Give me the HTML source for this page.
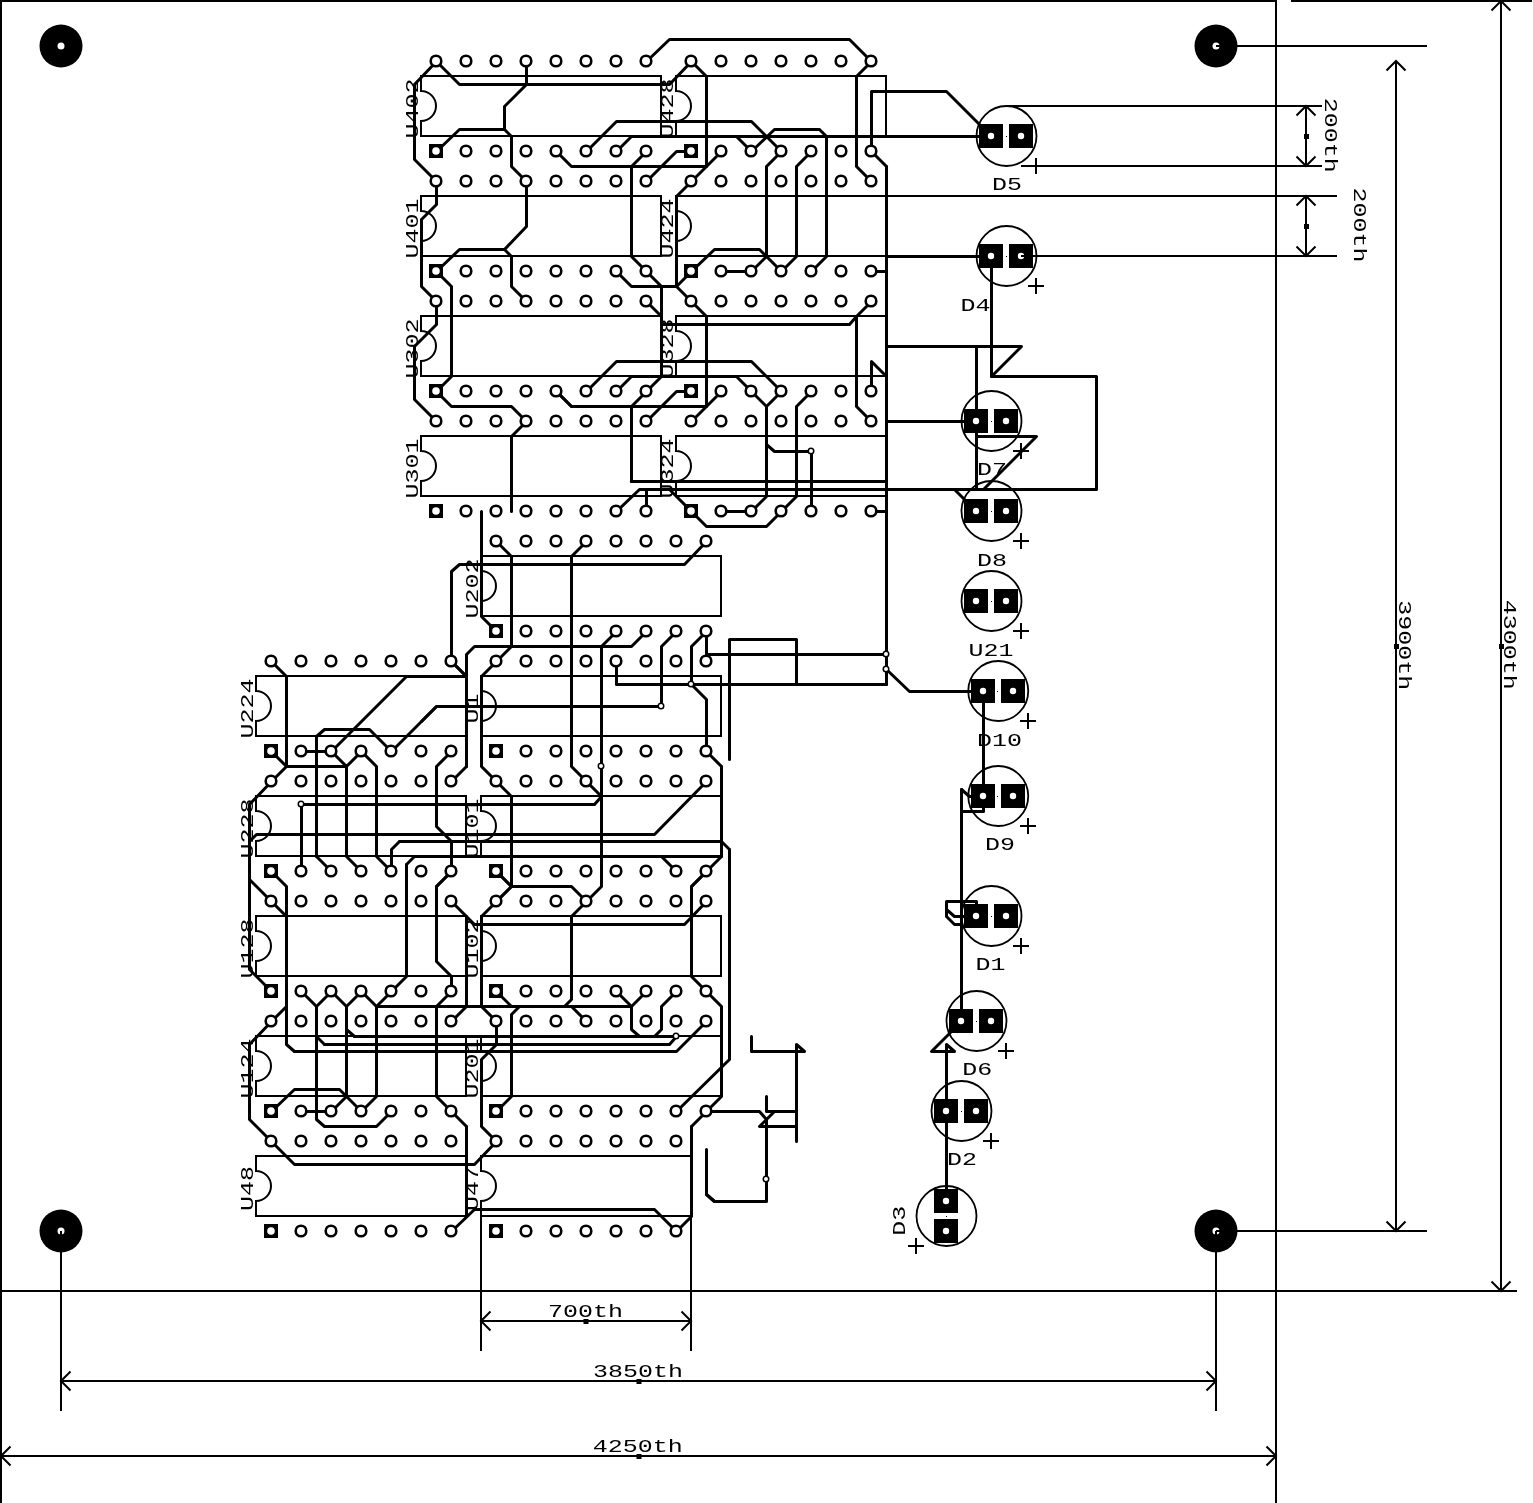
<!DOCTYPE html>
<html lang="en">
<head>
<meta charset="utf-8">
<title>PCB layout</title>
<style>
html,body{margin:0;padding:0;background:#fff;}
body{width:1533px;height:1503px;overflow:hidden;}
svg{display:block;filter:grayscale(1);}
</style>
</head>
<body>
<svg width="1533" height="1503" viewBox="0 0 1533 1503">
<rect width="1533" height="1503" fill="#fff"/>
<g fill="none" stroke="#000" stroke-width="2" stroke-linejoin="miter" stroke-linecap="square">
<path d="M421 76H661V136H421V121A15 15 0 0 0 421 91Z"/>
<path d="M421 196H661V256H421V241A15 15 0 0 0 421 211Z"/>
<path d="M421 316H661V376H421V361A15 15 0 0 0 421 331Z"/>
<path d="M421 436H661V496H421V481A15 15 0 0 0 421 451Z"/>
<path d="M676 76H886V136H676V121A15 15 0 0 0 676 91Z"/>
<path d="M676 196H886V256H676V241A15 15 0 0 0 676 211Z"/>
<path d="M676 316H886V376H676V361A15 15 0 0 0 676 331Z"/>
<path d="M676 436H886V496H676V481A15 15 0 0 0 676 451Z"/>
<path d="M481 556H721V616H481V601A15 15 0 0 0 481 571Z"/>
<path d="M481 676H721V736H481V721A15 15 0 0 0 481 691Z"/>
<path d="M481 796H721V856H481V841A15 15 0 0 0 481 811Z"/>
<path d="M481 916H721V976H481V961A15 15 0 0 0 481 931Z"/>
<path d="M481 1036H721V1096H481V1081A15 15 0 0 0 481 1051Z"/>
<path d="M481 1156H691V1216H481V1201A15 15 0 0 0 481 1171Z"/>
<path d="M256 676H466V736H256V721A15 15 0 0 0 256 691Z"/>
<path d="M256 796H466V856H256V841A15 15 0 0 0 256 811Z"/>
<path d="M256 916H466V976H256V961A15 15 0 0 0 256 931Z"/>
<path d="M256 1036H466V1096H256V1081A15 15 0 0 0 256 1051Z"/>
<path d="M256 1156H466V1216H256V1201A15 15 0 0 0 256 1171Z"/>
</g>
<g fill="none" stroke="#000" stroke-width="1.8">
<circle cx="1006.5" cy="136" r="30"/>
<circle cx="1006.5" cy="256" r="30"/>
<circle cx="991.5" cy="421" r="30"/>
<circle cx="991.5" cy="511" r="30"/>
<circle cx="991.5" cy="601" r="30"/>
<circle cx="998.25" cy="691" r="30"/>
<circle cx="998.25" cy="796" r="30"/>
<circle cx="991.5" cy="916" r="30"/>
<circle cx="976.5" cy="1021" r="30"/>
<circle cx="961.5" cy="1111" r="30"/>
<circle cx="946.5" cy="1216" r="30"/>
</g>
<g fill="none" stroke="#000" stroke-width="3" stroke-linejoin="round" stroke-linecap="round">
<polyline points="436.5,61.5 414.5,84.5 414.5,159.5 436.5,181.5"/>
<polyline points="436.5,151.5 459.5,129.5 504.5,129.5 511.5,136.5 511.5,166.5 526.5,181.5"/>
<polyline points="526.5,61.5 526.5,84.5 504.5,106.5 504.5,129.5"/>
<polyline points="436.5,61.5 459.5,84.5 669.5,84.5 691.5,61.5"/>
<polyline points="526.5,181.5 526.5,226.5 504.5,249.5 459.5,249.5 436.5,271.5"/>
<polyline points="504.5,249.5 511.5,256.5 511.5,286.5 526.5,301.5"/>
<polyline points="436.5,181.5 436.5,204.5 421.5,219.5 421.5,286.5 436.5,301.5"/>
<polyline points="556.5,151.5 571.5,166.5 706.5,166.5 706.5,76.5 691.5,61.5"/>
<polyline points="631.5,166.5 631.5,256.5 646.5,271.5"/>
<polyline points="631.5,166.5 646.5,151.5"/>
<polyline points="586.5,151.5 616.5,121.5 751.5,121.5 781.5,151.5"/>
<polyline points="646.5,61.5 669.5,39.5 849.5,39.5 871.5,61.5"/>
<polyline points="646.5,181.5 676.5,151.5 691.5,151.5"/>
<polyline points="616.5,271.5 631.5,286.5 676.5,286.5"/>
<polyline points="871.5,61.5 856.5,76.5 856.5,166.5 871.5,181.5"/>
<polyline points="721.5,151.5 691.5,181.5 676.5,196.5 676.5,286.5 691.5,271.5"/>
<polyline points="676.5,286.5 691.5,301.5"/>
<polyline points="751.5,151.5 774.5,129.5 819.5,129.5 826.5,136.5 826.5,256.5 811.5,271.5"/>
<polyline points="781.5,151.5 766.5,166.5 766.5,256.5 751.5,271.5"/>
<polyline points="691.5,271.5 714.5,249.5 759.5,249.5 781.5,271.5"/>
<polyline points="721.5,271.5 751.5,271.5"/>
<polyline points="811.5,151.5 796.5,166.5 796.5,256.5 781.5,271.5"/>
<polyline points="871.5,271.5 886.5,271.5"/>
<polyline points="436.5,301.5 436.5,324.5 414.5,346.5 414.5,399.5 436.5,421.5"/>
<polyline points="436.5,271.5 451.5,286.5 451.5,376.5 436.5,391.5 451.5,406.5 511.5,406.5 526.5,421.5 511.5,436.5 511.5,511.5"/>
<polyline points="556.5,391.5 571.5,406.5"/>
<polyline points="631.5,406.5 631.5,481.5"/>
<polyline points="646.5,271.5 661.5,286.5 661.5,376.5 646.5,391.5 631.5,406.5"/>
<polyline points="646.5,301.5 661.5,316.5"/>
<polyline points="646.5,421.5 676.5,391.5 691.5,391.5"/>
<polyline points="646.5,511.5 646.5,489.5"/>
<polyline points="871.5,511.5 886.5,511.5"/>
<polyline points="871.5,391.5 871.5,361.5 886.5,376.5"/>
<polyline points="871.5,301.5 856.5,316.5 856.5,406.5 871.5,421.5"/>
<polyline points="856.5,316.5 849.5,324.5 661.5,324.5"/>
<polyline points="556.5,391.5 571.5,406.5 706.5,406.5 706.5,316.5 691.5,301.5"/>
<polyline points="721.5,391.5 691.5,421.5"/>
<polyline points="586.5,391.5 616.5,361.5 751.5,361.5 781.5,391.5"/>
<polyline points="616.5,391.5 631.5,376.5 736.5,376.5 751.5,391.5"/>
<polyline points="751.5,391.5 766.5,406.5 781.5,391.5"/>
<polyline points="766.5,406.5 766.5,496.5 751.5,511.5"/>
<polyline points="766.5,444.5 774.5,451.5 811.5,451.5 811.5,511.5"/>
<polyline points="811.5,391.5 796.5,406.5 796.5,496.5 781.5,511.5"/>
<polyline points="721.5,511.5 751.5,511.5"/>
<polyline points="691.5,511.5 706.5,526.5 766.5,526.5 781.5,511.5"/>
<polyline points="669.5,489.5 691.5,511.5"/>
<polyline points="631.5,481.5 886.5,481.5"/>
<polyline points="886.5,166.5 871.5,151.5 871.5,91.5 946.5,91.5 991.5,136.5"/>
<polyline points="631.5,136.5 991.5,136.5"/>
<polyline points="736.5,136.5 751.5,151.5"/>
<polyline points="886.5,256.5 991.5,256.5"/>
<polyline points="886.5,346.5 1021.5,346.5 991.5,376.5 1096.5,376.5 1096.5,489.5 639.5,489.5 616.5,511.5"/>
<polyline points="991.5,256.5 991.5,376.5"/>
<polyline points="976.5,346.5 976.5,489.5"/>
<polyline points="886.5,421.5 976.5,421.5"/>
<polyline points="976.5,436.5 1036.5,436.5 983.5,489.5"/>
<polyline points="954.5,489.5 976.5,511.5"/>
<polyline points="886.5,166.5 886.5,684.5"/>
<polyline points="886.5,669.5 909.5,691.5 983.5,691.5 983.5,811.5 961.5,811.5"/>
<polyline points="961.5,789.5 969.5,796.5 983.5,796.5"/>
<polyline points="961.5,789.5 961.5,1021.5"/>
<polyline points="976.5,916.5 976.5,901.5 946.5,901.5 946.5,916.5 954.5,924.5 961.5,924.5"/>
<polyline points="946.5,909.5 954.5,916.5 976.5,916.5"/>
<polyline points="961.5,1021.5 931.5,1051.5 954.5,1051.5 946.5,1044.5 946.5,1201.5"/>
<polyline points="676.5,631.5 661.5,646.5 661.5,706.5"/>
<polyline points="706.5,631.5 691.5,646.5 691.5,684.5 706.5,699.5 706.5,751.5 721.5,766.5"/>
<polyline points="706.5,631.5 706.5,654.5 886.5,654.5"/>
<polyline points="796.5,684.5 796.5,639.5 729.5,639.5 729.5,759.5"/>
<polyline points="481.5,511.5 481.5,616.5 496.5,631.5"/>
<polyline points="496.5,541.5 511.5,556.5 511.5,646.5 496.5,661.5 481.5,676.5 481.5,766.5 496.5,781.5"/>
<polyline points="466.5,766.5 466.5,654.5 474.5,646.5 631.5,646.5 646.5,631.5"/>
<polyline points="601.5,646.5 616.5,631.5"/>
<polyline points="586.5,541.5 571.5,556.5 571.5,766.5 586.5,781.5"/>
<polyline points="706.5,541.5 684.5,564.5 459.5,564.5 451.5,571.5 451.5,661.5 466.5,676.5"/>
<polyline points="616.5,661.5 616.5,684.5 886.5,684.5"/>
<polyline points="661.5,706.5 436.5,706.5 421.5,721.5"/>
<polyline points="271.5,661.5 286.5,676.5 286.5,766.5 271.5,781.5 249.5,804.5"/>
<polyline points="271.5,751.5 286.5,766.5 346.5,766.5"/>
<polyline points="301.5,751.5 331.5,751.5"/>
<polyline points="331.5,751.5 346.5,766.5 361.5,751.5"/>
<polyline points="346.5,766.5 346.5,856.5 361.5,871.5"/>
<polyline points="361.5,751.5 376.5,766.5 376.5,856.5 391.5,871.5"/>
<polyline points="331.5,751.5 406.5,676.5 466.5,676.5"/>
<polyline points="451.5,661.5 466.5,676.5"/>
<polyline points="316.5,856.5 316.5,736.5 324.5,729.5 369.5,729.5 391.5,751.5"/>
<polyline points="436.5,706.5 391.5,751.5"/>
<polyline points="451.5,751.5 436.5,766.5 436.5,826.5 451.5,841.5 451.5,871.5 436.5,886.5"/>
<polyline points="301.5,804.5 301.5,871.5"/>
<polyline points="496.5,781.5 511.5,796.5 511.5,886.5 496.5,871.5"/>
<polyline points="511.5,886.5 496.5,901.5"/>
<polyline points="249.5,804.5 249.5,969.5 271.5,991.5"/>
<polyline points="249.5,879.5 271.5,901.5 286.5,916.5"/>
<polyline points="271.5,871.5 286.5,886.5 286.5,1044.5 294.5,1051.5"/>
<polyline points="286.5,1006.5 271.5,1021.5 249.5,1044.5 249.5,1119.5 271.5,1141.5"/>
<polyline points="406.5,864.5 406.5,976.5 391.5,991.5 376.5,1006.5 361.5,991.5 346.5,1006.5 331.5,991.5 316.5,1006.5 301.5,991.5"/>
<polyline points="316.5,1006.5 316.5,1119.5 324.5,1126.5 376.5,1126.5 391.5,1111.5"/>
<polyline points="346.5,1006.5 346.5,1096.5 331.5,1111.5"/>
<polyline points="376.5,1006.5 376.5,1096.5 361.5,1111.5"/>
<polyline points="346.5,1029.5 354.5,1036.5"/>
<polyline points="316.5,1036.5 324.5,1044.5"/>
<polyline points="301.5,1111.5 331.5,1111.5"/>
<polyline points="271.5,1111.5 294.5,1089.5 339.5,1089.5 361.5,1111.5"/>
<polyline points="451.5,871.5 436.5,886.5 436.5,961.5 451.5,976.5 451.5,991.5 436.5,1006.5 436.5,1096.5 451.5,1111.5 466.5,1126.5"/>
<polyline points="451.5,901.5 466.5,916.5 466.5,1006.5 451.5,1021.5"/>
<polyline points="466.5,916.5 474.5,924.5"/>
<polyline points="511.5,886.5 496.5,901.5 481.5,916.5 481.5,1006.5 496.5,1021.5 496.5,1044.5 481.5,1059.5 481.5,1126.5 496.5,1141.5"/>
<polyline points="496.5,991.5 511.5,1006.5"/>
<polyline points="496.5,1111.5 511.5,1096.5 511.5,1014.5 519.5,1006.5"/>
<polyline points="271.5,1141.5 294.5,1164.5 474.5,1164.5 496.5,1141.5"/>
<polyline points="466.5,1126.5 466.5,1216.5"/>
<polyline points="451.5,1231.5 474.5,1209.5"/>
<polyline points="586.5,781.5 601.5,796.5 594.5,804.5 301.5,804.5"/>
<polyline points="601.5,646.5 601.5,886.5 586.5,901.5"/>
<polyline points="706.5,781.5 654.5,834.5 256.5,834.5 249.5,841.5"/>
<polyline points="721.5,766.5 721.5,856.5 706.5,871.5 691.5,886.5"/>
<polyline points="414.5,856.5 721.5,856.5"/>
<polyline points="406.5,864.5 414.5,856.5"/>
<polyline points="661.5,856.5 676.5,871.5"/>
<polyline points="496.5,871.5 511.5,886.5 571.5,886.5 586.5,901.5"/>
<polyline points="399.5,841.5 721.5,841.5 729.5,849.5"/>
<polyline points="391.5,871.5 391.5,849.5 399.5,841.5"/>
<polyline points="586.5,901.5 571.5,916.5 571.5,999.5 564.5,1006.5"/>
<polyline points="376.5,1006.5 631.5,1006.5"/>
<polyline points="571.5,1006.5 586.5,1021.5"/>
<polyline points="616.5,991.5 631.5,1006.5 646.5,991.5"/>
<polyline points="631.5,1006.5 631.5,1029.5 639.5,1036.5"/>
<polyline points="676.5,991.5 661.5,1006.5 661.5,1029.5 654.5,1036.5"/>
<polyline points="354.5,1036.5 676.5,1036.5"/>
<polyline points="324.5,1044.5 669.5,1044.5 676.5,1036.5"/>
<polyline points="294.5,1051.5 676.5,1051.5 706.5,1021.5"/>
<polyline points="474.5,924.5 684.5,924.5 706.5,901.5"/>
<polyline points="706.5,871.5 691.5,886.5 691.5,976.5 706.5,991.5 721.5,1006.5 721.5,1096.5 706.5,1111.5 691.5,1126.5"/>
<polyline points="729.5,849.5 729.5,1059.5 676.5,1111.5"/>
<polyline points="691.5,1126.5 691.5,1216.5 676.5,1231.5"/>
<polyline points="474.5,1209.5 654.5,1209.5 676.5,1231.5"/>
<polyline points="706.5,1149.5 706.5,1194.5 714.5,1201.5"/>
<polyline points="706.5,1111.5 759.5,1111.5 766.5,1119.5 766.5,1201.5 714.5,1201.5 706.5,1194.5"/>
<polyline points="751.5,1036.5 751.5,1051.5 804.5,1051.5 796.5,1044.5 796.5,1141.5"/>
<polyline points="766.5,1096.5 766.5,1111.5 796.5,1111.5"/>
<polyline points="774.5,1111.5 759.5,1126.5 796.5,1126.5"/>
<polyline points="466.5,766.5 451.5,781.5"/>
<polyline points="616.5,151.5 631.5,136.5"/>
<polyline points="316.5,856.5 331.5,871.5"/>
</g>
<g fill="#fff" stroke="#000" stroke-width="2.6">
<circle cx="436" cy="61" r="5.3"/>
<circle cx="466" cy="61" r="5.3"/>
<circle cx="496" cy="61" r="5.3"/>
<circle cx="526" cy="61" r="5.3"/>
<circle cx="556" cy="61" r="5.3"/>
<circle cx="586" cy="61" r="5.3"/>
<circle cx="616" cy="61" r="5.3"/>
<circle cx="646" cy="61" r="5.3"/>
<circle cx="466" cy="151" r="5.3"/>
<circle cx="496" cy="151" r="5.3"/>
<circle cx="526" cy="151" r="5.3"/>
<circle cx="556" cy="151" r="5.3"/>
<circle cx="586" cy="151" r="5.3"/>
<circle cx="616" cy="151" r="5.3"/>
<circle cx="646" cy="151" r="5.3"/>
<circle cx="436" cy="181" r="5.3"/>
<circle cx="466" cy="181" r="5.3"/>
<circle cx="496" cy="181" r="5.3"/>
<circle cx="526" cy="181" r="5.3"/>
<circle cx="556" cy="181" r="5.3"/>
<circle cx="586" cy="181" r="5.3"/>
<circle cx="616" cy="181" r="5.3"/>
<circle cx="646" cy="181" r="5.3"/>
<circle cx="466" cy="271" r="5.3"/>
<circle cx="496" cy="271" r="5.3"/>
<circle cx="526" cy="271" r="5.3"/>
<circle cx="556" cy="271" r="5.3"/>
<circle cx="586" cy="271" r="5.3"/>
<circle cx="616" cy="271" r="5.3"/>
<circle cx="646" cy="271" r="5.3"/>
<circle cx="436" cy="301" r="5.3"/>
<circle cx="466" cy="301" r="5.3"/>
<circle cx="496" cy="301" r="5.3"/>
<circle cx="526" cy="301" r="5.3"/>
<circle cx="556" cy="301" r="5.3"/>
<circle cx="586" cy="301" r="5.3"/>
<circle cx="616" cy="301" r="5.3"/>
<circle cx="646" cy="301" r="5.3"/>
<circle cx="466" cy="391" r="5.3"/>
<circle cx="496" cy="391" r="5.3"/>
<circle cx="526" cy="391" r="5.3"/>
<circle cx="556" cy="391" r="5.3"/>
<circle cx="586" cy="391" r="5.3"/>
<circle cx="616" cy="391" r="5.3"/>
<circle cx="646" cy="391" r="5.3"/>
<circle cx="436" cy="421" r="5.3"/>
<circle cx="466" cy="421" r="5.3"/>
<circle cx="496" cy="421" r="5.3"/>
<circle cx="526" cy="421" r="5.3"/>
<circle cx="556" cy="421" r="5.3"/>
<circle cx="586" cy="421" r="5.3"/>
<circle cx="616" cy="421" r="5.3"/>
<circle cx="646" cy="421" r="5.3"/>
<circle cx="466" cy="511" r="5.3"/>
<circle cx="496" cy="511" r="5.3"/>
<circle cx="526" cy="511" r="5.3"/>
<circle cx="556" cy="511" r="5.3"/>
<circle cx="586" cy="511" r="5.3"/>
<circle cx="616" cy="511" r="5.3"/>
<circle cx="646" cy="511" r="5.3"/>
<circle cx="691" cy="61" r="5.3"/>
<circle cx="721" cy="61" r="5.3"/>
<circle cx="751" cy="61" r="5.3"/>
<circle cx="781" cy="61" r="5.3"/>
<circle cx="811" cy="61" r="5.3"/>
<circle cx="841" cy="61" r="5.3"/>
<circle cx="871" cy="61" r="5.3"/>
<circle cx="721" cy="151" r="5.3"/>
<circle cx="751" cy="151" r="5.3"/>
<circle cx="781" cy="151" r="5.3"/>
<circle cx="811" cy="151" r="5.3"/>
<circle cx="841" cy="151" r="5.3"/>
<circle cx="871" cy="151" r="5.3"/>
<circle cx="691" cy="181" r="5.3"/>
<circle cx="721" cy="181" r="5.3"/>
<circle cx="751" cy="181" r="5.3"/>
<circle cx="781" cy="181" r="5.3"/>
<circle cx="811" cy="181" r="5.3"/>
<circle cx="841" cy="181" r="5.3"/>
<circle cx="871" cy="181" r="5.3"/>
<circle cx="721" cy="271" r="5.3"/>
<circle cx="751" cy="271" r="5.3"/>
<circle cx="781" cy="271" r="5.3"/>
<circle cx="811" cy="271" r="5.3"/>
<circle cx="841" cy="271" r="5.3"/>
<circle cx="871" cy="271" r="5.3"/>
<circle cx="691" cy="301" r="5.3"/>
<circle cx="721" cy="301" r="5.3"/>
<circle cx="751" cy="301" r="5.3"/>
<circle cx="781" cy="301" r="5.3"/>
<circle cx="811" cy="301" r="5.3"/>
<circle cx="841" cy="301" r="5.3"/>
<circle cx="871" cy="301" r="5.3"/>
<circle cx="721" cy="391" r="5.3"/>
<circle cx="751" cy="391" r="5.3"/>
<circle cx="781" cy="391" r="5.3"/>
<circle cx="811" cy="391" r="5.3"/>
<circle cx="841" cy="391" r="5.3"/>
<circle cx="871" cy="391" r="5.3"/>
<circle cx="691" cy="421" r="5.3"/>
<circle cx="721" cy="421" r="5.3"/>
<circle cx="751" cy="421" r="5.3"/>
<circle cx="781" cy="421" r="5.3"/>
<circle cx="811" cy="421" r="5.3"/>
<circle cx="841" cy="421" r="5.3"/>
<circle cx="871" cy="421" r="5.3"/>
<circle cx="721" cy="511" r="5.3"/>
<circle cx="751" cy="511" r="5.3"/>
<circle cx="781" cy="511" r="5.3"/>
<circle cx="811" cy="511" r="5.3"/>
<circle cx="841" cy="511" r="5.3"/>
<circle cx="871" cy="511" r="5.3"/>
<circle cx="496" cy="541" r="5.3"/>
<circle cx="526" cy="541" r="5.3"/>
<circle cx="556" cy="541" r="5.3"/>
<circle cx="586" cy="541" r="5.3"/>
<circle cx="616" cy="541" r="5.3"/>
<circle cx="646" cy="541" r="5.3"/>
<circle cx="676" cy="541" r="5.3"/>
<circle cx="706" cy="541" r="5.3"/>
<circle cx="526" cy="631" r="5.3"/>
<circle cx="556" cy="631" r="5.3"/>
<circle cx="586" cy="631" r="5.3"/>
<circle cx="616" cy="631" r="5.3"/>
<circle cx="646" cy="631" r="5.3"/>
<circle cx="676" cy="631" r="5.3"/>
<circle cx="706" cy="631" r="5.3"/>
<circle cx="496" cy="661" r="5.3"/>
<circle cx="526" cy="661" r="5.3"/>
<circle cx="556" cy="661" r="5.3"/>
<circle cx="586" cy="661" r="5.3"/>
<circle cx="616" cy="661" r="5.3"/>
<circle cx="646" cy="661" r="5.3"/>
<circle cx="676" cy="661" r="5.3"/>
<circle cx="706" cy="661" r="5.3"/>
<circle cx="526" cy="751" r="5.3"/>
<circle cx="556" cy="751" r="5.3"/>
<circle cx="586" cy="751" r="5.3"/>
<circle cx="616" cy="751" r="5.3"/>
<circle cx="646" cy="751" r="5.3"/>
<circle cx="676" cy="751" r="5.3"/>
<circle cx="706" cy="751" r="5.3"/>
<circle cx="496" cy="781" r="5.3"/>
<circle cx="526" cy="781" r="5.3"/>
<circle cx="556" cy="781" r="5.3"/>
<circle cx="586" cy="781" r="5.3"/>
<circle cx="616" cy="781" r="5.3"/>
<circle cx="646" cy="781" r="5.3"/>
<circle cx="676" cy="781" r="5.3"/>
<circle cx="706" cy="781" r="5.3"/>
<circle cx="526" cy="871" r="5.3"/>
<circle cx="556" cy="871" r="5.3"/>
<circle cx="586" cy="871" r="5.3"/>
<circle cx="616" cy="871" r="5.3"/>
<circle cx="646" cy="871" r="5.3"/>
<circle cx="676" cy="871" r="5.3"/>
<circle cx="706" cy="871" r="5.3"/>
<circle cx="496" cy="901" r="5.3"/>
<circle cx="526" cy="901" r="5.3"/>
<circle cx="556" cy="901" r="5.3"/>
<circle cx="586" cy="901" r="5.3"/>
<circle cx="616" cy="901" r="5.3"/>
<circle cx="646" cy="901" r="5.3"/>
<circle cx="676" cy="901" r="5.3"/>
<circle cx="706" cy="901" r="5.3"/>
<circle cx="526" cy="991" r="5.3"/>
<circle cx="556" cy="991" r="5.3"/>
<circle cx="586" cy="991" r="5.3"/>
<circle cx="616" cy="991" r="5.3"/>
<circle cx="646" cy="991" r="5.3"/>
<circle cx="676" cy="991" r="5.3"/>
<circle cx="706" cy="991" r="5.3"/>
<circle cx="496" cy="1021" r="5.3"/>
<circle cx="526" cy="1021" r="5.3"/>
<circle cx="556" cy="1021" r="5.3"/>
<circle cx="586" cy="1021" r="5.3"/>
<circle cx="616" cy="1021" r="5.3"/>
<circle cx="646" cy="1021" r="5.3"/>
<circle cx="676" cy="1021" r="5.3"/>
<circle cx="706" cy="1021" r="5.3"/>
<circle cx="526" cy="1111" r="5.3"/>
<circle cx="556" cy="1111" r="5.3"/>
<circle cx="586" cy="1111" r="5.3"/>
<circle cx="616" cy="1111" r="5.3"/>
<circle cx="646" cy="1111" r="5.3"/>
<circle cx="676" cy="1111" r="5.3"/>
<circle cx="706" cy="1111" r="5.3"/>
<circle cx="496" cy="1141" r="5.3"/>
<circle cx="526" cy="1141" r="5.3"/>
<circle cx="556" cy="1141" r="5.3"/>
<circle cx="586" cy="1141" r="5.3"/>
<circle cx="616" cy="1141" r="5.3"/>
<circle cx="646" cy="1141" r="5.3"/>
<circle cx="676" cy="1141" r="5.3"/>
<circle cx="526" cy="1231" r="5.3"/>
<circle cx="556" cy="1231" r="5.3"/>
<circle cx="586" cy="1231" r="5.3"/>
<circle cx="616" cy="1231" r="5.3"/>
<circle cx="646" cy="1231" r="5.3"/>
<circle cx="676" cy="1231" r="5.3"/>
<circle cx="271" cy="661" r="5.3"/>
<circle cx="301" cy="661" r="5.3"/>
<circle cx="331" cy="661" r="5.3"/>
<circle cx="361" cy="661" r="5.3"/>
<circle cx="391" cy="661" r="5.3"/>
<circle cx="421" cy="661" r="5.3"/>
<circle cx="451" cy="661" r="5.3"/>
<circle cx="301" cy="751" r="5.3"/>
<circle cx="331" cy="751" r="5.3"/>
<circle cx="361" cy="751" r="5.3"/>
<circle cx="391" cy="751" r="5.3"/>
<circle cx="421" cy="751" r="5.3"/>
<circle cx="451" cy="751" r="5.3"/>
<circle cx="271" cy="781" r="5.3"/>
<circle cx="301" cy="781" r="5.3"/>
<circle cx="331" cy="781" r="5.3"/>
<circle cx="361" cy="781" r="5.3"/>
<circle cx="391" cy="781" r="5.3"/>
<circle cx="421" cy="781" r="5.3"/>
<circle cx="451" cy="781" r="5.3"/>
<circle cx="301" cy="871" r="5.3"/>
<circle cx="331" cy="871" r="5.3"/>
<circle cx="361" cy="871" r="5.3"/>
<circle cx="391" cy="871" r="5.3"/>
<circle cx="421" cy="871" r="5.3"/>
<circle cx="451" cy="871" r="5.3"/>
<circle cx="271" cy="901" r="5.3"/>
<circle cx="301" cy="901" r="5.3"/>
<circle cx="331" cy="901" r="5.3"/>
<circle cx="361" cy="901" r="5.3"/>
<circle cx="391" cy="901" r="5.3"/>
<circle cx="421" cy="901" r="5.3"/>
<circle cx="451" cy="901" r="5.3"/>
<circle cx="301" cy="991" r="5.3"/>
<circle cx="331" cy="991" r="5.3"/>
<circle cx="361" cy="991" r="5.3"/>
<circle cx="391" cy="991" r="5.3"/>
<circle cx="421" cy="991" r="5.3"/>
<circle cx="451" cy="991" r="5.3"/>
<circle cx="271" cy="1021" r="5.3"/>
<circle cx="301" cy="1021" r="5.3"/>
<circle cx="331" cy="1021" r="5.3"/>
<circle cx="361" cy="1021" r="5.3"/>
<circle cx="391" cy="1021" r="5.3"/>
<circle cx="421" cy="1021" r="5.3"/>
<circle cx="451" cy="1021" r="5.3"/>
<circle cx="301" cy="1111" r="5.3"/>
<circle cx="331" cy="1111" r="5.3"/>
<circle cx="361" cy="1111" r="5.3"/>
<circle cx="391" cy="1111" r="5.3"/>
<circle cx="421" cy="1111" r="5.3"/>
<circle cx="451" cy="1111" r="5.3"/>
<circle cx="271" cy="1141" r="5.3"/>
<circle cx="301" cy="1141" r="5.3"/>
<circle cx="331" cy="1141" r="5.3"/>
<circle cx="361" cy="1141" r="5.3"/>
<circle cx="391" cy="1141" r="5.3"/>
<circle cx="421" cy="1141" r="5.3"/>
<circle cx="451" cy="1141" r="5.3"/>
<circle cx="301" cy="1231" r="5.3"/>
<circle cx="331" cy="1231" r="5.3"/>
<circle cx="361" cy="1231" r="5.3"/>
<circle cx="391" cy="1231" r="5.3"/>
<circle cx="421" cy="1231" r="5.3"/>
<circle cx="451" cy="1231" r="5.3"/>
</g>
<g fill="#000">
<rect x="429" y="144" width="14" height="14"/>
<rect x="429" y="264" width="14" height="14"/>
<rect x="429" y="384" width="14" height="14"/>
<rect x="429" y="504" width="14" height="14"/>
<rect x="684" y="144" width="14" height="14"/>
<rect x="684" y="264" width="14" height="14"/>
<rect x="684" y="384" width="14" height="14"/>
<rect x="684" y="504" width="14" height="14"/>
<rect x="489" y="624" width="14" height="14"/>
<rect x="489" y="744" width="14" height="14"/>
<rect x="489" y="864" width="14" height="14"/>
<rect x="489" y="984" width="14" height="14"/>
<rect x="489" y="1104" width="14" height="14"/>
<rect x="489" y="1224" width="14" height="14"/>
<rect x="264" y="744" width="14" height="14"/>
<rect x="264" y="864" width="14" height="14"/>
<rect x="264" y="984" width="14" height="14"/>
<rect x="264" y="1104" width="14" height="14"/>
<rect x="264" y="1224" width="14" height="14"/>
<rect x="979" y="124" width="24" height="24"/>
<rect x="1009" y="124" width="24" height="24"/>
<rect x="979" y="244" width="24" height="24"/>
<rect x="1009" y="244" width="24" height="24"/>
<rect x="964" y="409" width="24" height="24"/>
<rect x="994" y="409" width="24" height="24"/>
<rect x="964" y="499" width="24" height="24"/>
<rect x="994" y="499" width="24" height="24"/>
<rect x="964" y="589" width="24" height="24"/>
<rect x="994" y="589" width="24" height="24"/>
<rect x="971" y="679" width="24" height="24"/>
<rect x="1001" y="679" width="24" height="24"/>
<rect x="971" y="784" width="24" height="24"/>
<rect x="1001" y="784" width="24" height="24"/>
<rect x="964" y="904" width="24" height="24"/>
<rect x="994" y="904" width="24" height="24"/>
<rect x="949" y="1009" width="24" height="24"/>
<rect x="979" y="1009" width="24" height="24"/>
<rect x="934" y="1099" width="24" height="24"/>
<rect x="964" y="1099" width="24" height="24"/>
<rect x="934" y="1189" width="24" height="24"/>
<rect x="934" y="1219" width="24" height="24"/>
</g>
<g fill="#fff">
<circle cx="436" cy="151" r="3.8"/>
<circle cx="436" cy="271" r="3.8"/>
<circle cx="436" cy="391" r="3.8"/>
<circle cx="436" cy="511" r="3.8"/>
<circle cx="691" cy="151" r="3.8"/>
<circle cx="691" cy="271" r="3.8"/>
<circle cx="691" cy="391" r="3.8"/>
<circle cx="691" cy="511" r="3.8"/>
<circle cx="496" cy="631" r="3.8"/>
<circle cx="496" cy="751" r="3.8"/>
<circle cx="496" cy="871" r="3.8"/>
<circle cx="496" cy="991" r="3.8"/>
<circle cx="496" cy="1111" r="3.8"/>
<circle cx="496" cy="1231" r="3.8"/>
<circle cx="271" cy="751" r="3.8"/>
<circle cx="271" cy="871" r="3.8"/>
<circle cx="271" cy="991" r="3.8"/>
<circle cx="271" cy="1111" r="3.8"/>
<circle cx="271" cy="1231" r="3.8"/>
<circle cx="991" cy="136" r="3.2"/>
<circle cx="1021" cy="136" r="3.2"/>
<circle cx="991" cy="256" r="3.2"/>
<circle cx="1021" cy="256" r="3.2"/>
<circle cx="976" cy="421" r="3.2"/>
<circle cx="1006" cy="421" r="3.2"/>
<circle cx="976" cy="511" r="3.2"/>
<circle cx="1006" cy="511" r="3.2"/>
<circle cx="976" cy="601" r="3.2"/>
<circle cx="1006" cy="601" r="3.2"/>
<circle cx="983" cy="691" r="3.2"/>
<circle cx="1013" cy="691" r="3.2"/>
<circle cx="983" cy="796" r="3.2"/>
<circle cx="1013" cy="796" r="3.2"/>
<circle cx="976" cy="916" r="3.2"/>
<circle cx="1006" cy="916" r="3.2"/>
<circle cx="961" cy="1021" r="3.2"/>
<circle cx="991" cy="1021" r="3.2"/>
<circle cx="946" cy="1111" r="3.2"/>
<circle cx="976" cy="1111" r="3.2"/>
<circle cx="946" cy="1201" r="3.2"/>
<circle cx="946" cy="1231" r="3.2"/>
</g>
<g fill="#000">
<rect x="1006" y="136" width="1" height="1"/>
<rect x="1006" y="256" width="1" height="1"/>
<rect x="991" y="421" width="1" height="1"/>
<rect x="991" y="511" width="1" height="1"/>
<rect x="991" y="601" width="1" height="1"/>
<rect x="997" y="691" width="1" height="1"/>
<rect x="997" y="796" width="1" height="1"/>
<rect x="991" y="916" width="1" height="1"/>
<rect x="976" y="1021" width="1" height="1"/>
<rect x="961" y="1111" width="1" height="1"/>
<rect x="946" y="1216" width="1" height="1"/>
</g>
<g fill="#fff" stroke="#000" stroke-width="1.5">
<circle cx="811" cy="451" r="2.75"/>
<circle cx="886" cy="654" r="2.75"/>
<circle cx="886" cy="669" r="2.75"/>
<circle cx="661" cy="706" r="2.75"/>
<circle cx="691" cy="684" r="2.75"/>
<circle cx="601" cy="766" r="2.75"/>
<circle cx="301" cy="804" r="2.75"/>
<circle cx="676" cy="1036" r="2.75"/>
<circle cx="766" cy="1179" r="2.75"/>
</g>
<g fill="none" stroke="#000" stroke-width="2">
<path d="M1028 166H1044M1036 158V174"/>
<path d="M1028 286H1044M1036 278V294"/>
<path d="M1013 451H1029M1021 443V459"/>
<path d="M1013 541H1029M1021 533V549"/>
<path d="M1013 631H1029M1021 623V639"/>
<path d="M1020 721H1036M1028 713V729"/>
<path d="M1020 826H1036M1028 818V834"/>
<path d="M1013 946H1029M1021 938V954"/>
<path d="M998 1051H1014M1006 1043V1059"/>
<path d="M983 1141H999M991 1133V1149"/>
<path d="M908 1246H924M916 1238V1254"/>
</g>
<g>
<circle cx="61" cy="46" r="21.5" fill="#000"/><circle cx="61" cy="46" r="3.5" fill="#fff"/>
<circle cx="1216" cy="46" r="21.5" fill="#000"/><circle cx="1216" cy="46" r="3.5" fill="#fff"/>
<circle cx="61" cy="1231" r="21.5" fill="#000"/><circle cx="61" cy="1231" r="3.5" fill="#fff"/>
<circle cx="1216" cy="1231" r="21.5" fill="#000"/><circle cx="1216" cy="1231" r="3.5" fill="#fff"/>
</g>
<g fill="none" stroke="#000" stroke-width="2" stroke-linecap="butt">
<path d="M0 1H1277M1 0V1503M1276 0V1503M0 1291H1517M1291 1H1532"/>
<path d="M1216 46H1427M1216 1231H1427M61 1231V1411M1216 1231V1411"/>
<path d="M481 1201V1351M691 1216V1351"/>
<path d="M481 1321H691M490.5 1311.5L481 1321L490.5 1330.5M681.5 1311.5L691 1321L681.5 1330.5"/>
<path d="M61 1381H1216M70.5 1371.5L61 1381L70.5 1390.5M1206.5 1371.5L1216 1381L1206.5 1390.5"/>
<path d="M1 1456H1276M10.5 1446.5L1 1456L10.5 1465.5M1266.5 1446.5L1276 1456L1266.5 1465.5"/>
<path d="M1396 61V1231M1386.5 70.5L1396 61L1405.5 70.5M1386.5 1221.5L1396 1231L1405.5 1221.5"/>
<path d="M1501 1V1291M1491.5 10.5L1501 1L1510.5 10.5M1491.5 1281.5L1501 1291L1510.5 1281.5"/>
<path d="M1306 106V166M1296.5 115.5L1306 106L1315.5 115.5M1296.5 156.5L1306 166L1315.5 156.5"/>
<path d="M1306 196V256M1296.5 205.5L1306 196L1315.5 205.5M1296.5 246.5L1306 256L1315.5 246.5"/>
<path d="M1007 106H1322M1021 166H1322M676 196H1337M1021 256H1337"/>
</g>
<g fill="#000">
<rect x="583.5" y="1319" width="5" height="5"/>
<rect x="636.5" y="1379" width="5" height="5"/>
<rect x="636.5" y="1454" width="5" height="5"/>
<rect x="1394" y="644" width="5" height="5"/>
<rect x="1499" y="644" width="5" height="5"/>
<rect x="1304" y="134" width="5" height="5"/>
<rect x="1304" y="224" width="5" height="5"/>
</g>
<g font-family="'Liberation Mono', monospace" font-size="18.5" fill="#000">
<text transform="translate(418.2 108.5) rotate(-90) scale(1.35 1)" text-anchor="middle">U402</text>
<text transform="translate(418.2 228.5) rotate(-90) scale(1.35 1)" text-anchor="middle">U401</text>
<text transform="translate(418.2 348.5) rotate(-90) scale(1.35 1)" text-anchor="middle">U302</text>
<text transform="translate(418.2 468.5) rotate(-90) scale(1.35 1)" text-anchor="middle">U301</text>
<text transform="translate(673.2 108.5) rotate(-90) scale(1.35 1)" text-anchor="middle">U428</text>
<text transform="translate(673.2 228.5) rotate(-90) scale(1.35 1)" text-anchor="middle">U424</text>
<text transform="translate(673.2 348.5) rotate(-90) scale(1.35 1)" text-anchor="middle">U328</text>
<text transform="translate(673.2 468.5) rotate(-90) scale(1.35 1)" text-anchor="middle">U324</text>
<text transform="translate(478.2 588.5) rotate(-90) scale(1.35 1)" text-anchor="middle">U202</text>
<text transform="translate(478.2 708.5) rotate(-90) scale(1.35 1)" text-anchor="middle">U1</text>
<text transform="translate(478.2 828.5) rotate(-90) scale(1.35 1)" text-anchor="middle">U101</text>
<text transform="translate(478.2 948.5) rotate(-90) scale(1.35 1)" text-anchor="middle">U102</text>
<text transform="translate(478.2 1068.5) rotate(-90) scale(1.35 1)" text-anchor="middle">U201</text>
<text transform="translate(478.2 1188.5) rotate(-90) scale(1.35 1)" text-anchor="middle">U47</text>
<text transform="translate(253.2 708.5) rotate(-90) scale(1.35 1)" text-anchor="middle">U224</text>
<text transform="translate(253.2 828.5) rotate(-90) scale(1.35 1)" text-anchor="middle">U228</text>
<text transform="translate(253.2 948.5) rotate(-90) scale(1.35 1)" text-anchor="middle">U128</text>
<text transform="translate(253.2 1068.5) rotate(-90) scale(1.35 1)" text-anchor="middle">U124</text>
<text transform="translate(253.2 1188.5) rotate(-90) scale(1.35 1)" text-anchor="middle">U48</text>
<text transform="translate(1007 190.3) scale(1.35 1)" text-anchor="middle">D5</text>
<text transform="translate(975.5 311) scale(1.35 1)" text-anchor="middle">D4</text>
<text transform="translate(992 475.3) scale(1.35 1)" text-anchor="middle">D7</text>
<text transform="translate(992 565.6) scale(1.35 1)" text-anchor="middle">D8</text>
<text transform="translate(991 656.2) scale(1.35 1)" text-anchor="middle">U21</text>
<text transform="translate(999.5 746.2) scale(1.35 1)" text-anchor="middle">D10</text>
<text transform="translate(1000 849.8) scale(1.35 1)" text-anchor="middle">D9</text>
<text transform="translate(990.5 970) scale(1.35 1)" text-anchor="middle">D1</text>
<text transform="translate(977.3 1074.6) scale(1.35 1)" text-anchor="middle">D6</text>
<text transform="translate(962 1165) scale(1.35 1)" text-anchor="middle">D2</text>
<text transform="translate(904.8 1220.8) rotate(-90) scale(1.35 1)" text-anchor="middle">D3</text>
<text transform="translate(585.5 1317.2) scale(1.35 1)" text-anchor="middle">700th</text>
<text transform="translate(638 1377) scale(1.35 1)" text-anchor="middle">3850th</text>
<text transform="translate(637.7 1452.3) scale(1.35 1)" text-anchor="middle">4250th</text>
<text transform="translate(1399 645.2) rotate(90) scale(1.35 1)" text-anchor="middle">3900th</text>
<text transform="translate(1504.2 644.7) rotate(90) scale(1.35 1)" text-anchor="middle">4300th</text>
<text transform="translate(1324.6 135.2) rotate(90) scale(1.35 1)" text-anchor="middle">200th</text>
<text transform="translate(1353.9 225) rotate(90) scale(1.35 1)" text-anchor="middle">200th</text>
</g>
</svg>
</body>
</html>
